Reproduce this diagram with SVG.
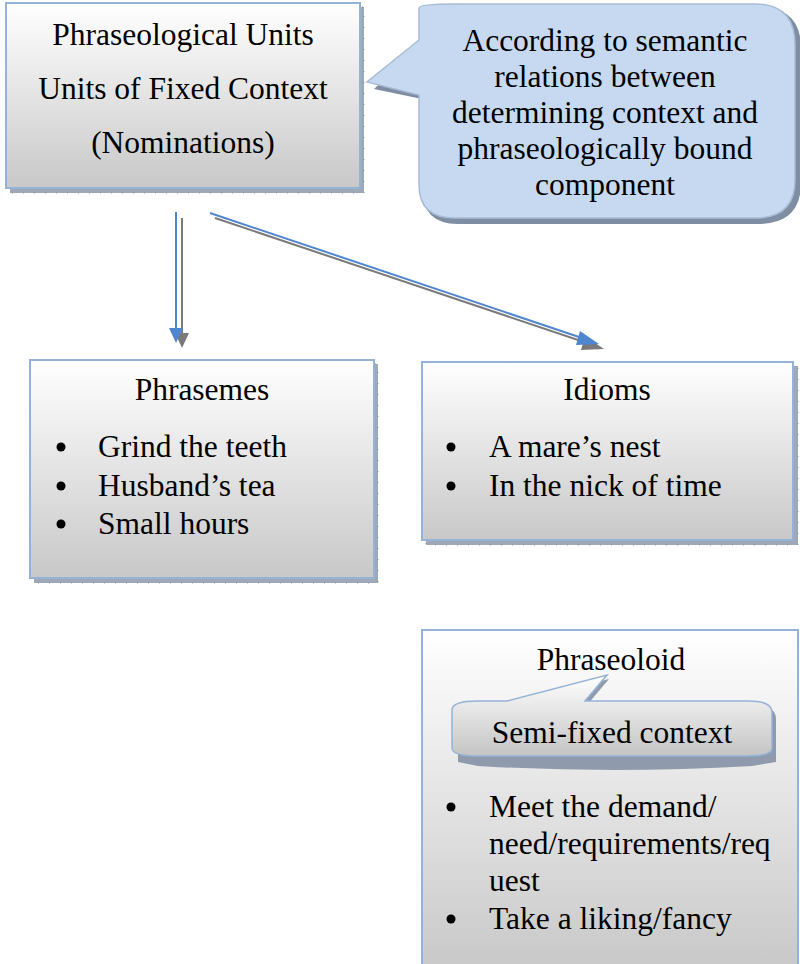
<svg xmlns="http://www.w3.org/2000/svg" width="800" height="964" viewBox="0 0 800 964">
  <defs>
    <linearGradient id="boxFill" x1="0" y1="0" x2="0" y2="1">
      <stop offset="0" stop-color="#ffffff"/>
      <stop offset="1" stop-color="#c8c8c8"/>
    </linearGradient>
    <linearGradient id="pillFill" x1="0" y1="0" x2="0" y2="1">
      <stop offset="0" stop-color="#ffffff"/>
      <stop offset="1" stop-color="#c4c4c4"/>
    </linearGradient>
  </defs>
  <style>
    .box { fill: url(#boxFill); stroke: #95b3d7; stroke-width: 2; }
    .shadow { fill: #9ea8b6; stroke: #8593a6; stroke-width: 1; stroke-dasharray: 1 10; }
    text { font-family: 'Liberation Serif', 'Times New Roman', serif; font-size: 31.5px; fill: #000; }
    .c { text-anchor: middle; }
    .dot { fill: #000; }
    .lineBlue { stroke: #4f86d0; stroke-width: 2; fill: none; }
    .lineGray { stroke: #7a7a7a; stroke-width: 2; fill: none; }
  </style>
  <rect width="800" height="964" fill="#ffffff"/>

  <!-- Connectors: doubled stroke (blue line over a grey offset) -->
  <g id="connectors">
    <line class="lineGray" x1="182" y1="218" x2="182" y2="334"/>
    <path d="M175,333 L189,333 L182,348 z" fill="#7a7a7a"/>
    <line class="lineBlue" x1="176" y1="212" x2="176" y2="330"/>
    <path d="M169,328 L183,328 L176,343 z" fill="#4f86d0"/>
    <line class="lineGray" x1="215" y1="218" x2="590" y2="344"/>
    <path d="M585,336 L604,349 L581,350 z" fill="#7a7a7a"/>
    <line class="lineBlue" x1="210" y1="213" x2="585" y2="339"/>
    <path d="M580,331 L599,344 L576,345 z" fill="#4f86d0"/>
  </g>

  <!-- Root node -->
  <g id="root">
    <rect class="shadow" x="10" y="7" width="354" height="186"/>
    <rect class="box" x="6" y="3" width="354" height="185"/>
    <text class="c" x="183" y="45">Phraseological Units</text>
    <text class="c" x="183" y="99">Units of Fixed Context</text>
    <text class="c" x="183" y="153">(Nominations)</text>
  </g>

  <!-- Speech-bubble note -->
  <g id="note">
    <path d="M419,8 Q419,4 455,4 L755,4 Q798,4 798,45 L798,180 Q798,221 755,221 L455,221 Q419,221 419,185 L419,96 L371,86 L419,42 Z" fill="#7f8ea3" transform="translate(3,3)"/>
    <path d="M419,8 Q419,4 455,4 L755,4 Q795,4 795,45 L795,180 Q795,218 755,218 L455,218 Q419,218 419,185 L419,95 L367,82 L419,40 Z" fill="#c6d9f1" stroke="#a9bcd6" stroke-width="1.5"/>
    <text class="c" x="605" y="51">According to semantic</text>
    <text class="c" x="605" y="87">relations between</text>
    <text class="c" x="605" y="123">determining context and</text>
    <text class="c" x="605" y="159">phraseologically bound</text>
    <text class="c" x="605" y="195">component</text>
  </g>

  <!-- Phrasemes -->
  <g id="phrasemes">
    <rect class="shadow" x="34" y="364" width="344" height="219"/>
    <rect class="box" x="30" y="360" width="344" height="218"/>
    <text class="c" x="202" y="400">Phrasemes</text>
    <circle class="dot" cx="61" cy="447" r="4.5"/>
    <text x="98" y="457">Grind the teeth</text>
    <circle class="dot" cx="61" cy="486" r="4.5"/>
    <text x="98" y="496">Husband’s tea</text>
    <circle class="dot" cx="61" cy="524" r="4.5"/>
    <text x="98" y="534">Small hours</text>
  </g>

  <!-- Idioms -->
  <g id="idioms">
    <rect class="shadow" x="426" y="366" width="372" height="179"/>
    <rect class="box" x="422" y="362" width="371" height="178"/>
    <text class="c" x="607" y="400">Idioms</text>
    <circle class="dot" cx="451" cy="447" r="4.5"/>
    <text x="489" y="457">A mare’s nest</text>
    <circle class="dot" cx="451" cy="486" r="4.5"/>
    <text x="489" y="496">In the nick of time</text>
  </g>

  <!-- Phraseoloid -->
  <g id="phraseoloid">
    <rect class="box" x="422" y="630" width="376" height="340"/>
    <text class="c" x="611" y="670">Phraseoloid</text>
    <g id="semi-fixed">
      <path d="M456,706 Q456,701 480,701 L507,701 L607,675 L585,701 L750,701 Q774,701 774,715 L774,758 L750,762 Q612,770 476,762 L456,758 Z" fill="#8f9bad" transform="translate(2,4)"/>
      <path d="M452,710 Q452,701 478,701 L507,701 L607,675 L585,701 L748,701 Q772,701 772,712 L772,748 Q772,756 748,756 L478,756 Q452,756 452,748 Z" fill="url(#pillFill)" stroke="#95b3d7" stroke-width="1.5"/>
      <text class="c" x="612" y="743">Semi-fixed context</text>
    </g>
    <circle class="dot" cx="451" cy="807" r="4.5"/>
    <text x="489" y="817">Meet the demand/</text>
    <text x="489" y="854">need/requirements/req</text>
    <text x="489" y="891">uest</text>
    <circle class="dot" cx="451" cy="919" r="4.5"/>
    <text x="489" y="929">Take a liking/fancy</text>
  </g>
</svg>
